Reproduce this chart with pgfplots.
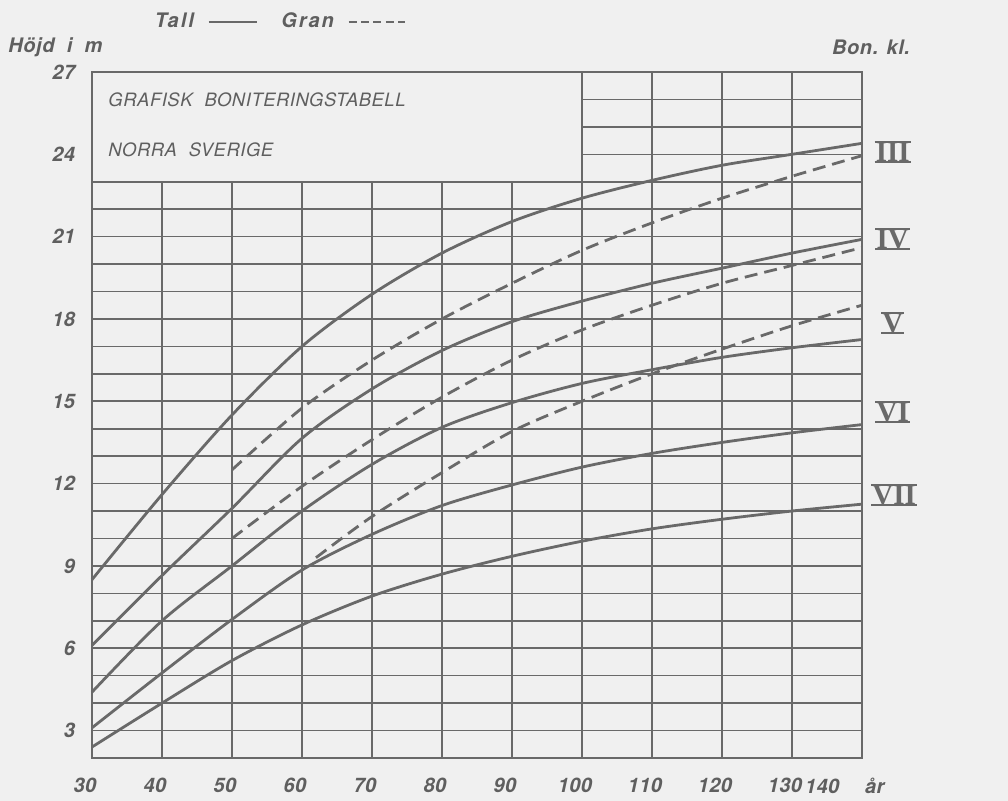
\documentclass[border=0pt]{standalone}
\usepackage{fontspec}
\setmainfont{TeX Gyre Heros}
\newfontfamily\romfont{Liberation Serif}
\usepackage{pgfplots}
\pgfplotsset{compat=1.18}
\usetikzlibrary{backgrounds}
\definecolor{bg}{RGB}{240,240,240}
\definecolor{ink}{RGB}{105,105,105}
\definecolor{txt}{RGB}{95,95,95}
\tikzset{rn/.style={font=\romfont\bfseries\fontsize{14.5}{14.5}\selectfont, text=ink, inner xsep=0.4pt, inner ysep=0pt, text height=9.6pt, text depth=0pt}}
\begin{document}
\begin{tikzpicture}
\begin{axis}[name=ax, scale only axis, width=385pt, height=343pt,
  xmin=30, xmax=140, ymin=2, ymax=27,
  clip=false,
  axis line style={ink, line width=0.9pt},
  xtick={30,40,...,140}, ytick={3,6,...,27},
  minor y tick num=2,
  xticklabels={30,40,50,60,70,80,90,100,110,120,130,{\makebox[0pt][l]{\hspace*{-25pt}140\hspace{13pt}år}}},
  grid=both,
  major grid style={ink, line width=0.8pt},
  minor grid style={ink, line width=0.8pt},
  major tick length=0pt, minor tick length=0pt,
  /pgf/number format/assume math mode=true,
  tick label style={font=\bfseries\itshape\fontsize{10}{12}\selectfont\addfontfeature{LetterSpace=2}, text=txt},
  xticklabel style={yshift=-6.5pt, xshift=-3.5pt},
  yticklabel style={xshift=-5pt},
  legend style={at={(0.076,1.073)}, anchor=west, draw=none, fill=none, inner sep=0pt,
    legend columns=2, font=\bfseries\itshape\fontsize{10}{12}\selectfont\addfontfeature{LetterSpace=10}, text=txt,
    legend plot pos=right,
    /tikz/every odd column/.append style={column sep=5pt},
    /tikz/every even column/.append style={column sep=10pt}},
  legend image code/.code={\draw[#1, line width=0.7pt] (0pt,0pt) -- (24pt,0pt);},
  every axis plot/.append style={line width=1.4pt, smooth, no markers},
]
% title box (no grid inside)
\fill[bg] (axis cs:30.15,23.04) rectangle (axis cs:99.85,26.96);
\node[anchor=west, inner sep=0pt, text=txt, font=\itshape\fontsize{9.2}{11}\selectfont\addfontfeature{LetterSpace=3}] at (axis cs:32.3,25.98) {GRAFISK\hspace{6pt}BONITERINGSTABELL};
\node[anchor=west, inner sep=0pt, text=txt, font=\itshape\fontsize{9.2}{11}\selectfont\addfontfeature{LetterSpace=3}] at (axis cs:32.3,24.16) {NORRA\hspace{6pt}SVERIGE};

% Tall (solid), Bon. kl. III
\addplot[ink] coordinates {(30,8.5)(40,11.6)(50,14.5)(60,17.0)(70,18.9)(80,20.4)(90,21.55)(100,22.4)(110,23.05)(120,23.6)(130,24.0)(140,24.4)};
\addlegendentry{Tall}
% Gran (dashed), Bon. kl. III
\addplot[ink, dash pattern=on 6.5pt off 3.5pt,
  legend image code/.code={\draw[ink, line width=0.7pt, dash pattern=on 4pt off 2.2pt] (0pt,0pt) -- (28pt,0pt);}]
  coordinates {(50,12.5)(60,14.75)(70,16.5)(80,18.0)(90,19.3)(100,20.5)(110,21.5)(120,22.4)(130,23.2)(140,23.95)};
\addlegendentry{Gran}
% Tall IV - VII
\addplot[ink, forget plot] coordinates {(30,6.1)(40,8.65)(50,11.1)(60,13.65)(70,15.45)(80,16.85)(90,17.9)(100,18.65)(110,19.3)(120,19.85)(130,20.4)(140,20.9)};
\addplot[ink, forget plot] coordinates {(30,4.4)(40,7.0)(50,9.0)(60,11.0)(70,12.7)(80,14.05)(90,14.95)(100,15.65)(110,16.15)(120,16.6)(130,16.95)(140,17.25)};
\addplot[ink, forget plot] coordinates {(30,3.1)(40,5.1)(50,7.05)(60,8.85)(70,10.15)(80,11.2)(90,11.95)(100,12.6)(110,13.1)(120,13.5)(130,13.85)(140,14.15)};
\addplot[ink, forget plot] coordinates {(30,2.4)(40,4.0)(50,5.55)(60,6.85)(70,7.9)(80,8.7)(90,9.35)(100,9.9)(110,10.35)(120,10.7)(130,11.0)(140,11.25)};
% Gran IV, V
\addplot[ink, forget plot, dash pattern=on 6.5pt off 3.5pt] coordinates {(50,10.0)(60,11.9)(70,13.6)(80,15.15)(90,16.5)(100,17.6)(110,18.5)(120,19.3)(130,19.95)(140,20.6)};
\addplot[ink, forget plot, dash pattern=on 6.5pt off 3.5pt] coordinates {(62,9.3)(70,10.8)(80,12.4)(90,13.9)(100,15.0)(110,16.0)(120,16.9)(130,17.75)(140,18.5)};

\node[anchor=west, inner sep=0pt, text=txt, font=\bfseries\itshape\fontsize{10}{12}\selectfont\addfontfeature{LetterSpace=3}] at (axis cs:18,27.9) {Höjd\hspace{3pt} i\hspace{3pt} m};
\node[anchor=center, inner sep=0pt, text=txt, font=\bfseries\itshape\fontsize{10}{12}\selectfont\addfontfeature{LetterSpace=3}] at (axis cs:141.3,27.9) {Bon. kl.};
\node[rn, name=r3] at (axis cs:144.4,24.1) {III};
\node[rn, name=r4] at (axis cs:144.4,20.9) {IV};
\node[rn, name=r5] at (axis cs:144.4,17.85) {V};
\node[rn, name=r6] at (axis cs:144.4,14.6) {VI};
\node[rn, name=r7] at (axis cs:144.6,11.6) {VII};
\end{axis}
\foreach \n in {r3,r4,r5,r6,r7}{
  \draw[ink, line width=1pt] (\n.north west) -- (\n.north east);
  \draw[ink, line width=1pt] (\n.south west) -- (\n.south east);
}
\begin{scope}[on background layer]
\fill[bg] (ax.south west) ++(-46pt,-21.5pt) rectangle ++(504pt,400.5pt);
\end{scope}
\pgfresetboundingbox
\path (ax.south west) ++(-46pt,-21.5pt) rectangle ++(504pt,400.5pt);
\end{tikzpicture}
\end{document}
